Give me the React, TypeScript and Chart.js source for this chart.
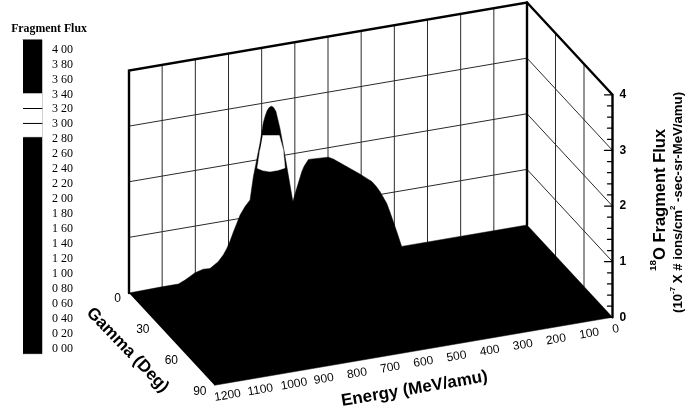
import React, { useEffect, useRef } from "react";
import { Chart, registerables } from "chart.js";

Chart.register(...registerables);

const energyTicks = [100, 200, 300, 400, 500, 600, 700, 800, 900, 1000, 1100];
const energyLabels = [0, 100, 200, 300, 400, 500, 600, 700, 800, 900, 1000, 1100, 1200];
const gammaTicks = [30, 60];
const gammaLabels = [0, 30, 60, 90];
const fluxGrid = [1, 2, 3];
const fluxLabels = [0, 1, 2, 3, 4];
const fluxMinor = [0.2, 0.4, 0.6, 0.8, 1.2, 1.4, 1.6, 1.8, 2.2, 2.4, 2.6, 2.8, 3.2, 3.4, 3.6, 3.8];

// Visible ridge of the surface, read as energy / flux against the back wall
const ridgeEnergy = [1200, 1101, 1051, 1031, 1016, 1001, 976, 956, 931, 915, 905, 895, 885, 875, 865, 850, 835, 825, 815, 805, 795, 789, 783, 776, 770, 764, 757, 745, 733, 720, 706, 694, 679, 672, 659, 599, 584, 504, 483, 468, 455, 443, 430, 423, 413, 403, 390, 378, 0];
const ridgeFlux = [0, 0.01, 0.01, 0.06, 0.11, 0.16, 0.2, 0.19, 0.29, 0.4, 0.5, 0.63, 0.78, 0.92, 1.06, 1.2, 1.3, 1.71, 2.0, 2.29, 2.65, 2.77, 2.86, 2.91, 2.92, 2.89, 2.81, 2.5, 2.1, 1.64, 1.14, 1.37, 1.65, 1.74, 1.85, 1.83, 1.78, 1.43, 1.33, 1.26, 1.16, 1.05, 0.9, 0.82, 0.65, 0.47, 0.23, 0, 0];

// White contour band on the peak (same reading)
const bandEnergy = [797, 747, 735, 730, 751, 775, 796, 813, 805];
const bandFlux = [2.42, 2.37, 2.1, 1.77, 1.75, 1.75, 1.79, 1.85, 2.17];

const legendLevels = ["4 00", "3 80", "3 60", "3 40", "3 20", "3 00", "2 80", "2 60", "2 40", "2 20", "2 00", "1 80", "1 60", "1 40", "1 20", "1 00", "0 80", "0 60", "0 40", "0 20", "0 00"];
const legendValues = [4, 3.8, 3.6, 3.4, 3.2, 3, 2.8, 2.6, 2.4, 2.2, 2, 1.8, 1.6, 1.4, 1.2, 1, 0.8, 0.6, 0.4, 0.2, 0];
const legendRange = [-0.08, 4.12];
const legendWhite = [2.82, 3.4];
const legendLines = [3.2, 3.0];

const EMAX = 1200, GMAX = 90, ZMAX = 4;
const project = (e: number, g: number, z: number) => ({
  x: 527 - (398 * e) / EMAX + (85.5 * g) / GMAX,
  y: 225 + (68 * e) / EMAX + (92.3 * g) / GMAX - (222.5 * z) / ZMAX,
});
const legendY = (v: number) => 347.7 - 74.75 * v;
const LEG_L = 23, LEG_R = 42;

type Pt = { x: number; y: number };
const line = (data: Pt[], width: number, color = "#000", extra: any = {}) => ({
  data,
  borderColor: color,
  borderWidth: width,
  pointRadius: 0,
  showLine: true,
  tension: 0,
  fill: false,
  borderCapStyle: "round",
  ...extra,
});
const shape = (data: Pt[], color: string) =>
  line(data, 0.5, color, { fill: "shape", backgroundColor: color });

const GRID = "#2a2a2a";

function buildDatasets() {
  const ds: any[] = [];
  // walls: grid
  energyTicks.forEach((e) => ds.push(line([project(e, 0, 0), project(e, 0, ZMAX)], 1, GRID)));
  gammaTicks.forEach((g) => ds.push(line([project(0, g, 0), project(0, g, ZMAX)], 1, GRID)));
  fluxGrid.forEach((z) =>
    ds.push(line([project(EMAX, 0, z), project(0, 0, z), project(0, GMAX, z)], 1, GRID))
  );
  // surface
  const surface = ridgeEnergy.map((e, i) => project(e, 0, ridgeFlux[i]));
  surface.push(project(0, GMAX, 0), project(EMAX, GMAX, 0));
  ds.push(shape(surface, "#000"));
  ds.push(shape(bandEnergy.map((e, i) => project(e, 0, bandFlux[i])), "#fff"));
  // frame
  ds.push(line([project(EMAX, 0, 0), project(EMAX, 0, ZMAX), project(0, 0, ZMAX), project(0, GMAX, ZMAX), project(0, GMAX, 0)], 2.4));
  ds.push(line([project(0, 0, 0), project(0, 0, ZMAX)], 2.4));
  // flux axis ticks
  const tick = (z: number, len: number) => {
    const p = project(0, GMAX, z);
    return line([{ x: p.x - len, y: p.y }, p], 1.3);
  };
  fluxLabels.forEach((z) => ds.push(tick(z, 8)));
  fluxMinor.forEach((z) => ds.push(tick(z, 5)));
  // colour bar
  const bar = (a: number, b: number, c: string) =>
    shape(
      [
        { x: LEG_L, y: legendY(a) },
        { x: LEG_R, y: legendY(a) },
        { x: LEG_R, y: legendY(b) },
        { x: LEG_L, y: legendY(b) },
      ],
      c
    );
  ds.push(bar(legendRange[0], legendRange[1], "#000"));
  ds.push(bar(legendWhite[0], legendWhite[1], "#fff"));
  legendLines.forEach((v) =>
    ds.push(line([{ x: LEG_L, y: legendY(v) }, { x: LEG_R, y: legendY(v) }], 1))
  );
  return ds.map((d, i) => ({ ...d, order: 1000 - i }));
}

const SANS = '"Liberation Sans", Arial, sans-serif';
const SERIF = '"Liberation Serif", serif';

const textPlugin = {
  id: "axisText",
  afterDraw(chart: any) {
    const { ctx, scales } = chart;
    const px = (p: Pt) => ({ x: scales.x.getPixelForValue(p.x), y: scales.y.getPixelForValue(p.y) });
    const put = (
      s: string,
      p: Pt,
      font: string,
      align: CanvasTextAlign = "left",
      rot = 0
    ) => {
      const q = px(p);
      ctx.save();
      ctx.translate(q.x, q.y);
      ctx.rotate(rot);
      ctx.font = font;
      ctx.fillStyle = "#000";
      ctx.textAlign = align;
      ctx.textBaseline = "middle";
      ctx.fillText(s, 0, 0);
      ctx.restore();
    };
    const tilt = (-9.7 * Math.PI) / 180;
    energyLabels.forEach((e) => {
      const p = project(e, GMAX, 0);
      put(String(e), { x: p.x, y: p.y + 12.5 }, `12px ${SANS}`, "left", tilt);
    });
    gammaLabels.forEach((g) => {
      const p = project(EMAX, g, 0);
      put(String(g), { x: p.x - 8, y: p.y + 6 }, `12px ${SANS}`, "right");
    });
    fluxLabels.forEach((z) => {
      const p = project(0, GMAX, z);
      put(String(z), { x: p.x + 7, y: p.y }, `bold 12px ${SANS}`, "left");
    });
    put("Gamma (Deg)", { x: 127.5, y: 350 }, `bold 17px ${SANS}`, "center", (46 * Math.PI) / 180);
    put("Energy (MeV/amu)", { x: 414.5, y: 389 }, `bold 17px ${SANS}`, "center", tilt);

    // rotated rich titles
    const rich = (segs: [string, boolean][], x: number, yBottom: number, size: number) => {
      const q = px({ x, y: yBottom });
      ctx.save();
      ctx.translate(q.x, q.y);
      ctx.rotate(-Math.PI / 2);
      ctx.fillStyle = "#000";
      ctx.textAlign = "left";
      ctx.textBaseline = "middle";
      let cur = 0;
      segs.forEach(([t, sup]) => {
        ctx.font = `bold ${sup ? size * 0.6 : size}px ${SANS}`;
        ctx.fillText(t, cur, sup ? -size * 0.42 : 0);
        cur += ctx.measureText(t).width;
      });
      ctx.restore();
    };
    rich([["18", true], ["O Fragment Flux", false]], 660, 271, 16.5);
    rich(
      [
        ["(10", false],
        ["-7", true],
        [" X # ions/cm", false],
        ["2", true],
        [" -sec-sr-MeV/amu)", false],
      ],
      678,
      313,
      13.2
    );

    // colour bar text
    put("Fragment Flux", { x: 49, y: 29 }, `bold 11.8px ${SERIF}`, "center");
    legendLevels.forEach((s, i) => {
      put(s, { x: 52, y: legendY(legendValues[i]) + 0.8 }, `12px ${SERIF}`, "left");
    });
  },
};

export default function App() {
  const ref = useRef<HTMLCanvasElement>(null);
  useEffect(() => {
    document.body.style.margin = "0";
    const chart = new Chart(ref.current as HTMLCanvasElement, {
      type: "scatter",
      data: { datasets: buildDatasets() },
      options: {
        animation: false,
        responsive: false,
        layout: { padding: 0 },
        clip: false,
        plugins: { legend: { display: false }, tooltip: { enabled: false }, title: { display: false } },
        scales: {
          x: { type: "linear", min: 0, max: 685, display: false },
          y: { type: "linear", min: 0, max: 412, reverse: true, display: false },
        },
      } as any,
      plugins: [textPlugin as any],
    });
    return () => chart.destroy();
  }, []);
  return (
    <div style={{ position: "absolute", left: 0, top: 0, background: "#fff" }}>
      <canvas ref={ref} width={685} height={412} style={{ display: "block" }} />
    </div>
  );
}
